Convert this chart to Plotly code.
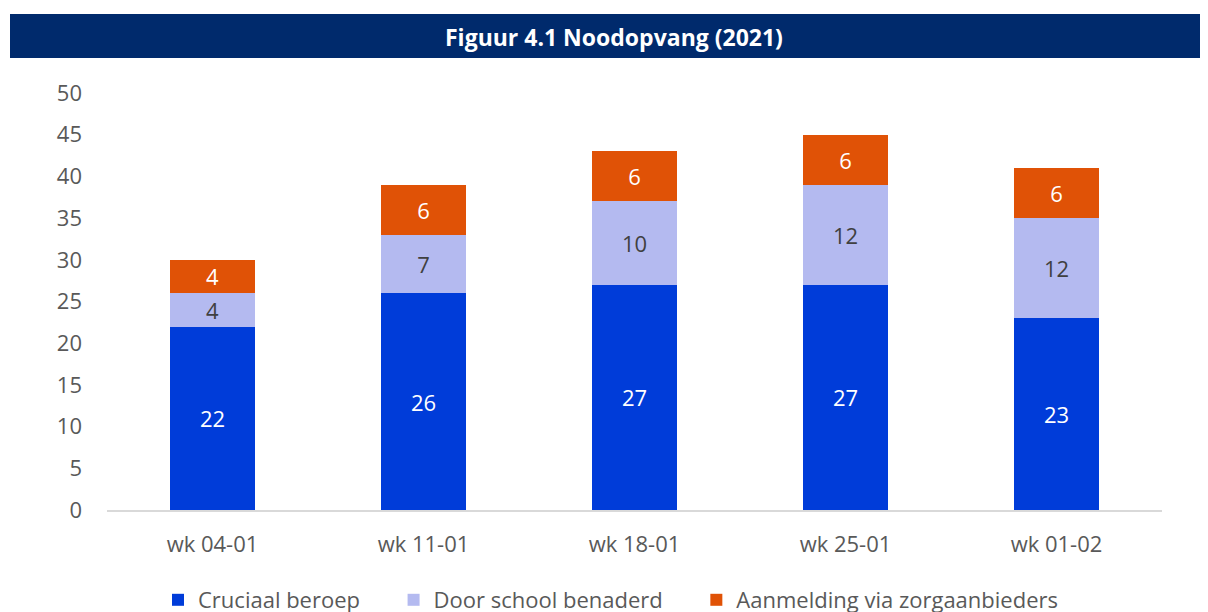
import plotly.graph_objects as go

categories = ["wk 04-01", "wk 11-01", "wk 18-01", "wk 25-01", "wk 01-02"]
cruciaal = [22, 26, 27, 27, 23]
school = [4, 7, 10, 12, 12]
zorg = [4, 6, 6, 6, 6]
series_names = ["Cruciaal beroep", "Door school benaderd", "Aanmelding via zorgaanbieders"]
colors = ["#003CD9", "#B4BAF0", "#E05206"]
label_colors = ["#FFFFFF", "#404040", "#FFFFFF"]

OFF = 8  # page body margin
W, H = 1208, 604
L, R, T, B = 99, 54, 85, 102
pw, ph = W - L - R, H - T - B

def px_x(sx):
    return (sx - OFF - L) / pw

def px_y(sy):
    return (H - B - (sy - OFF)) / ph

pad = "\u00a0" * 5
fig = go.Figure()
for i, (name, vals, c, lc) in enumerate(zip(series_names, [cruciaal, school, zorg], colors, label_colors)):
    fig.add_trace(go.Bar(
        x=categories, y=vals, name=name + (pad if i < 2 else ""), marker_color=c,
        marker_line_width=0,
        text=[str(v) for v in vals], textposition="inside",
        insidetextanchor="middle", textangle=0,
        textfont=dict(color=lc, size=22, family="Open Sans"),
        constraintext="none",
    ))

fig.add_shape(type="rect", xref="paper", yref="paper",
              x0=px_x(10), x1=px_x(1215), y0=px_y(58), y1=px_y(14),
              fillcolor="#002A6C", line_width=0, layer="below")
fig.add_annotation(text="<b>Figuur 4.1 Noodopvang (2021)</b>", xref="paper", yref="paper",
                   x=px_x(614), y=px_y(37), showarrow=False,
                   font=dict(color="white", size=23, family="Open Sans"),
                   xanchor="center", yanchor="middle")

fig.update_layout(
    width=W, height=H, barmode="stack", bargap=0.6,
    margin=dict(l=L, r=R, t=T, b=B, autoexpand=False),
    plot_bgcolor="white", paper_bgcolor="white",
    font=dict(family="Open Sans", color="#595959", size=22),
    showlegend=True,
    legend=dict(orientation="h", x=px_x(158), xanchor="left", y=px_y(600), yanchor="middle",
                font=dict(size=22, color="#595959"), traceorder="normal",
                itemwidth=30),
)
fig.update_xaxes(showline=True, linecolor="#D9D9D9", linewidth=2, ticks="",
                 tickfont=dict(size=22, color="#595959"), showgrid=False,
                 ticklabelstandoff=14)
fig.update_yaxes(range=[0, 50], dtick=5, showgrid=False, zeroline=False, showline=False,
                 tickfont=dict(size=22, color="#595959"), ticklabelstandoff=24)

fig.write_html("out.html")
